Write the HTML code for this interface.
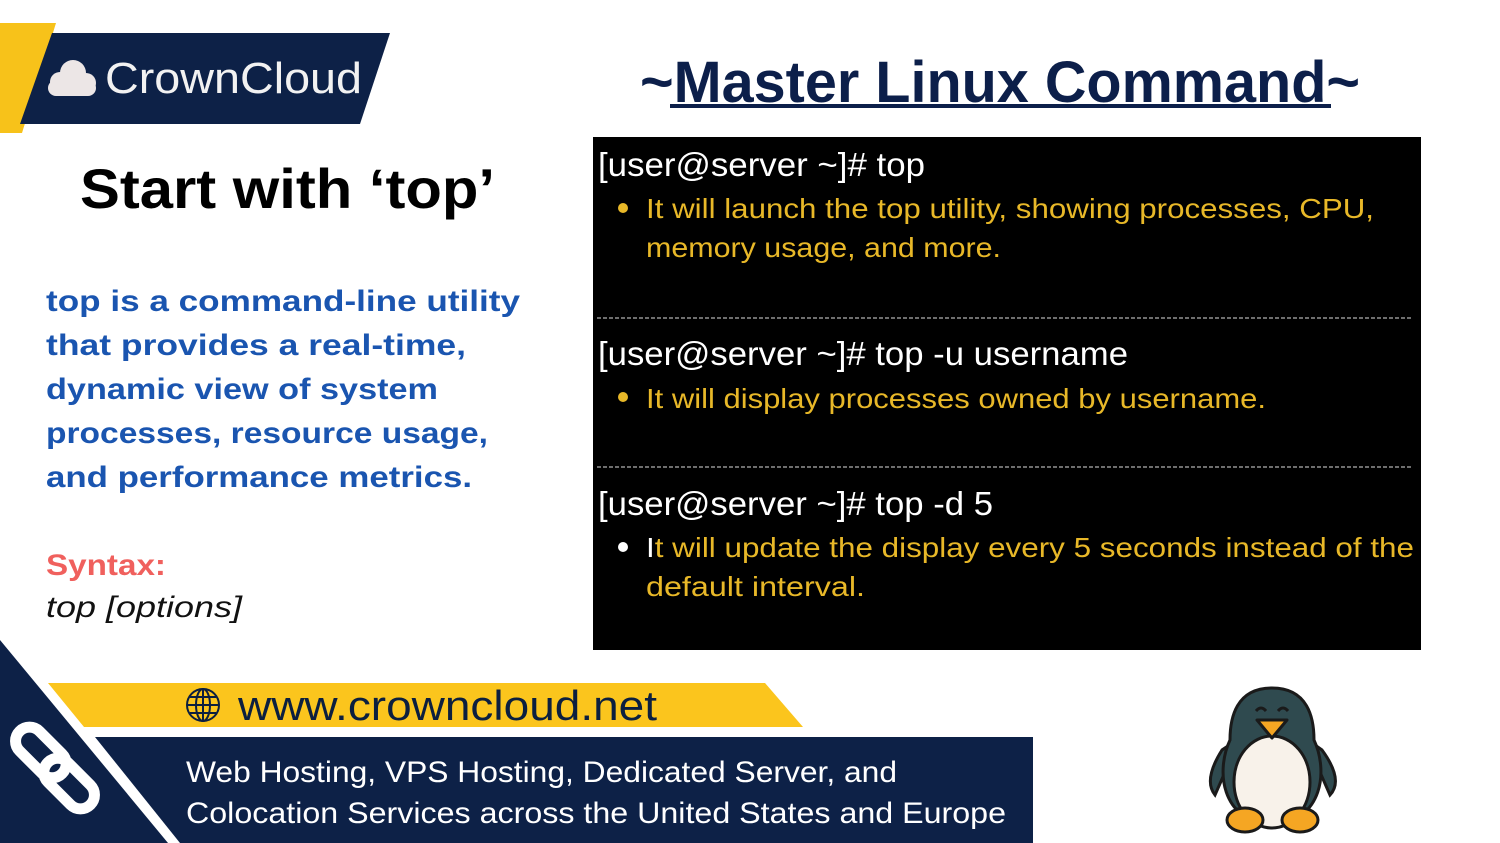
<!DOCTYPE html>
<html><head><meta charset="utf-8"><style>
html,body{margin:0;padding:0;background:#fff;}
svg{display:block;}
text{font-family:"Liberation Sans",sans-serif;}
</style></head><body>
<svg width="1500" height="843" viewBox="0 0 1500 843" xmlns="http://www.w3.org/2000/svg">
<rect width="1500" height="843" fill="#fff"/>
<polygon points="0,23 56,23 22,133 0,133" fill="#f7c21a"/>
<polygon points="52,33 390,33 360,124 20,124" fill="#0d2147"/>
<g fill="#ece6e6">
<circle cx="60" cy="82" r="10"/><circle cx="73" cy="73" r="13"/><circle cx="86" cy="83" r="10"/>
<rect x="48" y="80" width="48" height="16" rx="8"/>
</g>
<text x="105" y="93" font-size="44" fill="#f2f2f2" textLength="257" lengthAdjust="spacingAndGlyphs">CrownCloud</text>
<text x="640" y="102" font-size="58" font-weight="bold" fill="#0c1f4a" textLength="720" lengthAdjust="spacingAndGlyphs">~Master Linux Command~</text>
<rect x="670" y="104" width="661" height="4" fill="#0c1f4a"/>
<text x="80" y="208" font-size="56" font-weight="bold" fill="#000" textLength="415" lengthAdjust="spacingAndGlyphs">Start with ‘top’</text>
<g font-size="30" font-weight="bold" fill="#1a55b0">
<text x="46" y="311" textLength="474" lengthAdjust="spacingAndGlyphs">top is a command-line utility</text>
<text x="46" y="355" textLength="420" lengthAdjust="spacingAndGlyphs">that provides a real-time,</text>
<text x="46" y="399" textLength="392" lengthAdjust="spacingAndGlyphs">dynamic view of system</text>
<text x="46" y="443" textLength="442" lengthAdjust="spacingAndGlyphs">processes, resource usage,</text>
<text x="46" y="487" textLength="426" lengthAdjust="spacingAndGlyphs">and performance metrics.</text>
</g>
<text x="46" y="575" font-size="30" font-weight="bold" fill="#f0605d" textLength="120" lengthAdjust="spacingAndGlyphs">Syntax:</text>
<text x="46" y="617" font-size="30" font-style="italic" fill="#111" textLength="196" lengthAdjust="spacingAndGlyphs">top [options]</text>
<rect x="593" y="137" width="828" height="513" fill="#000"/>
<g font-size="33" fill="#fff">
<text x="598" y="176" textLength="327" lengthAdjust="spacingAndGlyphs">[user@server ~]# top</text>
<text x="598" y="365" textLength="530" lengthAdjust="spacingAndGlyphs">[user@server ~]# top -u username</text>
<text x="598" y="515" textLength="395" lengthAdjust="spacingAndGlyphs">[user@server ~]# top -d 5</text>
</g>
<circle cx="623" cy="208" r="5" fill="#e8b828"/>
<circle cx="623" cy="397" r="5" fill="#e8b828"/>
<circle cx="623" cy="547" r="5" fill="#fff"/>
<g font-size="28" fill="#e8b828">
<text x="646" y="218" textLength="728" lengthAdjust="spacingAndGlyphs">It will launch the top utility, showing processes, CPU,</text>
<text x="646" y="257" textLength="355" lengthAdjust="spacingAndGlyphs">memory usage, and more.</text>
<text x="646" y="408" textLength="620" lengthAdjust="spacingAndGlyphs">It will display processes owned by username.</text>
<text x="646" y="557" textLength="768" lengthAdjust="spacingAndGlyphs"><tspan fill="#fff">I</tspan>t will update the display every 5 seconds instead of the</text>
<text x="646" y="596" textLength="219" lengthAdjust="spacingAndGlyphs">default interval.</text>
</g>
<line x1="597" y1="318" x2="1412" y2="318" stroke="#ddd" stroke-width="1" stroke-dasharray="4,2"/>
<line x1="597" y1="467" x2="1412" y2="467" stroke="#ddd" stroke-width="1" stroke-dasharray="4,2"/>
<polygon points="0,640 0,843 168,843" fill="#0d2147"/>
<polygon points="48,683 765,683 803,727 84,727" fill="#fbc51d"/>
<polygon points="95,737 1033,737 1033,843 180,843" fill="#0d2147"/>
<g stroke="#0c1f3f" stroke-width="2" fill="none">
<circle cx="203" cy="705" r="16"/><ellipse cx="203" cy="705" rx="7" ry="16"/>
<line x1="187" y1="705" x2="219" y2="705"/><line x1="203" y1="689" x2="203" y2="721"/>
<line x1="190" y1="697" x2="216" y2="697"/><line x1="190" y1="713" x2="216" y2="713"/>
</g>
<text x="238" y="720" font-size="42" fill="#0c1f3f" textLength="419" lengthAdjust="spacingAndGlyphs">www.crowncloud.net</text>
<g font-size="30" fill="#fff">
<text x="186" y="782" textLength="711" lengthAdjust="spacingAndGlyphs">Web Hosting, VPS Hosting, Dedicated Server, and</text>
<text x="186" y="823" textLength="820" lengthAdjust="spacingAndGlyphs">Colocation Services across the United States and Europe</text>
</g>
<g stroke="#fff" stroke-width="11" fill="none" transform="rotate(45 55 768)">
<rect x="4" y="753" width="60" height="28" rx="14"/>
<rect x="46" y="755" width="60" height="28" rx="14"/>
</g>
<g stroke="#1a1a1a" stroke-width="3">
<path d="M1215,795 Q1203,780 1222,750 L1240,738 Z" fill="#2f4a4f"/>
<path d="M1330,795 Q1344,780 1322,750 L1305,738 Z" fill="#2f4a4f"/>
<path d="M1272,688 C1236,688 1230,718 1230,740 C1216,770 1220,820 1272,826 C1324,820 1328,770 1314,740 C1314,718 1308,688 1272,688 Z" fill="#2f4a4f"/>
<ellipse cx="1272" cy="782" rx="38" ry="46" fill="#f8f2ea"/>
<path d="M1257,720 L1287,720 L1272,738 Z" fill="#f5a623" stroke-linejoin="round"/>
<path d="M1256,711 q5,-6 10,0 M1278,711 q5,-6 10,0" fill="none"/>
<ellipse cx="1245" cy="820" rx="18" ry="12" fill="#f5a623"/>
<ellipse cx="1300" cy="820" rx="18" ry="12" fill="#f5a623"/>
</g>
</svg>
</body></html>
